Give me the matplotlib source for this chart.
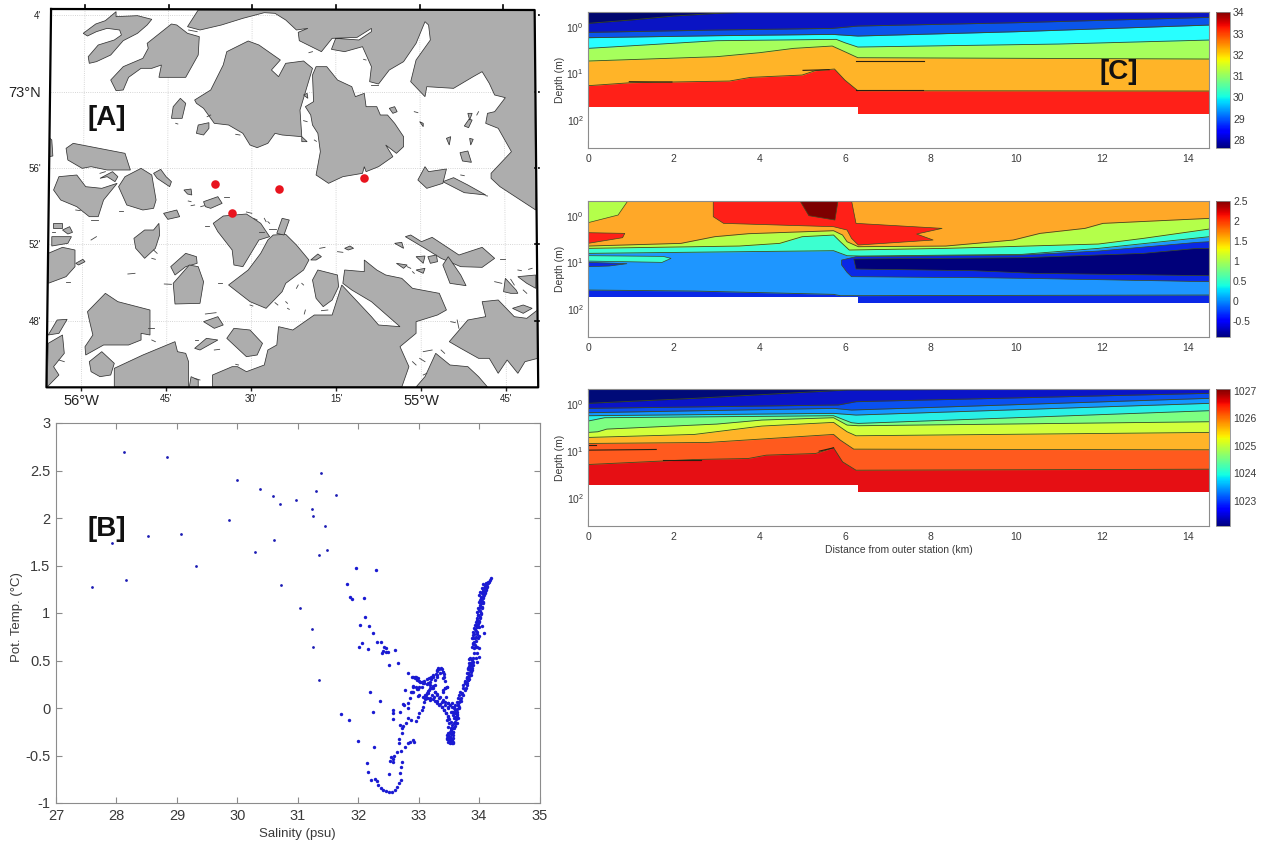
import numpy as np
import matplotlib
matplotlib.use("Agg")
import matplotlib.pyplot as plt

plt.rcParams['font.family'] = ['Liberation Sans', 'DejaVu Sans']
plt.rcParams['mathtext.default'] = 'regular'

W, H = 1263, 843
GREY = '#8c8c8c'
TXT = '#3a3a3a'

# ---- map coastlines (trace units, see to_lon / to_lat)
north_coast = [(555,30),(525,80),(560,90),(620,75),(680,55),(740,38),(770,40),(800,60),(830,90),(862,85),(835,97),
               (838,122),(900,155),(930,115),(1000,112),(1040,85),(1040,95),(1005,120),(940,115),(928,148),(965,155),
               (1015,140),(1040,200),(1035,245),(1060,252),(1090,210),(1130,185),(1165,130),(1190,65),(1200,75),(1205,120),
               (1165,180),(1150,245),(1190,290),(1195,260),(1270,265),(1325,230),(1350,215),(1370,250),(1385,285),
               (1415,293),(1385,335),(1365,340),(1360,370),(1395,385),(1432,455),(1375,520),(1375,535),(1400,560),
               (1500,630),(1497,30)]
south_coast = [(595,1161),(595,1125),(650,1100),(665,1100),(690,1115),(740,1095),(750,1050),(775,1035),(780,980),
               (820,990),(880,945),(930,945),(957,855),(1040,950),(1060,975),(1120,980),(1040,905),(985,870),(960,850),
               (965,810),(1020,815),(1020,780),(1055,810),(1080,825),(1125,835),(1155,865),(1230,880),(1250,930),
               (1225,945),(1165,965),(1165,1000),(1120,1040),(1145,1100),(1125,1161)]
southeast_land = [(1258,1025),(1310,960),(1360,950),(1350,905),(1395,900),(1440,950),(1475,955),(1505,930),(1506,1075),
                  (1470,1085),(1450,1120),(1420,1080),(1395,1120),(1370,1075),(1340,1075),(1290,1045)]
southeast_bottom = [(1165,1161),(1190,1130),(1220,1060),(1260,1095),(1310,1100),(1340,1130),(1365,1161)]
southwest_land = [(320,1161),(320,1105),(400,1065),(490,1025),(497,1055),(520,1060),(528,1085),(528,1161)]
nw_hook = [(233,100),(268,72),(295,62),(325,35),(325,50),(385,47),(425,58),(412,75),(385,100),(345,122),(310,165),
           (270,185),(250,190),(247,170),(275,135),(320,120),(340,105),(335,90),(300,85),(270,95),(245,108)]
nw_island = [(310,240),(345,200),(400,175),(415,145),(412,130),(480,72),(495,75),(525,100),(558,110),(555,165),
             (520,232),(445,232),(452,195),(425,205),(395,205),(360,232),(345,270),(325,272)]
north_island = [(545,300),(590,270),(625,195),(635,155),(695,123),(725,135),(785,180),(760,210),(780,230),(800,190),
                (850,183),(875,205),(840,330),(845,410),(790,405),(770,400),(750,430),(720,443),(700,435),(680,400),
                (640,375),(600,370),(570,325),(550,310)]
central_island = [(875,225),(885,200),(915,200),(945,240),(985,260),(995,290),(1020,280),(1025,320),(1055,320),
                  (1065,345),(1085,345),(1105,370),(1130,410),(1130,440),(1110,460),(1080,435),(1100,470),(1060,500),
                  (1025,515),(1020,500),(1015,520),(960,530),(920,550),(885,525),(897,455),(890,400),(875,375),
                  (870,345),(855,320),(878,305)]
south_isl_a = [(597,670),(625,648),(690,642),(730,670),(755,710),(725,720),(680,800),(655,795),(650,750),(610,695)]
south_isl_b = [(640,855),(695,810),(730,760),(750,720),(765,705),(800,703),(830,735),(865,780),(850,810),(800,850),
               (790,875),(745,925),(700,905)]
sw_island = [(245,935),(295,880),(330,905),(420,930),(420,1005),(395,1000),(395,1020),(360,1035),(290,1035),(240,1065),
             (238,1040),(260,1005),(250,960)]
east_long = [(1135,710),(1150,705),(1180,725),(1210,712),(1285,765),(1350,742),(1385,775),(1350,802),(1290,800),
             (1235,775),(1190,745)]
small_islands = [
    [(480,355),(485,320),(505,295),(520,310),(510,355)],
    [(550,400),(555,375),(585,368),(585,385),(570,405)],
    [(185,445),(205,430),(350,460),(365,510),(300,510),(255,500),(230,505),(190,480)],
    [(135,410),(145,420),(148,468),(135,470)],
    [(150,570),(165,530),(215,525),(240,560),(285,565),(328,550),(290,600),(275,650),(250,650),(215,620),(170,600)],
    [(280,535),(315,515),(330,530),(322,545),(300,530)],
    [(332,560),(350,530),(395,505),(425,525),(437,600),(430,625),(400,630),(355,615)],
    [(430,520),(450,508),(465,530),(480,545),(475,560),(440,535)],
    [(515,570),(535,567),(537,585),(525,582)],
    [(570,605),(610,590),(622,610),(590,625),(575,620)],
    [(458,640),(495,630),(503,650),(470,658)],
    [(775,700),(790,655),(810,660),(795,705)],
    [(375,715),(405,690),(430,690),(445,670),(447,705),(435,745),(405,775),(380,745)],
    [(135,760),(175,742),(210,750),(210,800),(185,830),(135,850)],
    [(148,670),(175,670),(175,685),(148,685)],
    [(175,690),(195,680),(203,697),(190,702)],
    [(145,710),(200,710),(190,730),(145,738)],
    [(212,790),(232,778),(238,785),(220,795)],
    [(478,800),(520,760),(550,770),(552,790),(520,800),(490,825)],
    [(485,850),(530,795),(555,800),(570,845),(560,910),(490,912)],
    [(875,840),(890,810),(945,825),(948,860),(930,900),(905,920),(885,895)],
    [(250,1085),(285,1055),(320,1090),(310,1125),(280,1130),(255,1115)],
    [(530,1161),(535,1130),(555,1140),(555,1161)],
    [(135,1005),(160,960),(188,958),(165,1000)],
    [(135,1030),(175,1005),(180,1060),(150,1100),(165,1125),(132,1161)],
    [(570,965),(610,950),(625,975),(600,985)],
    [(545,1045),(578,1015),(610,1020),(560,1050)],
    [(635,1015),(655,985),(700,990),(735,1030),(720,1065),(690,1070)],
    [(1240,545),(1270,533),(1310,555),(1360,585),(1300,578)],
    [(1170,540),(1190,500),(1200,515),(1250,507),(1240,550),(1195,565)],
    [(1288,458),(1310,453),(1320,487),(1295,483)],
    [(1250,415),(1262,410),(1258,435)],
    [(1300,378),(1313,358),(1322,360),(1312,383)],
    [(1240,795),(1255,770),(1290,825),(1305,857),(1260,850)],
    [(1165,770),(1190,768),(1185,790)],
    [(1198,770),(1222,765),(1225,785),(1205,790)],
    [(1165,810),(1190,805),(1185,820)],
    [(1110,790),(1140,795),(1130,805)],
    [(1105,730),(1125,727),(1130,745)],
    [(1410,875),(1415,835),(1445,870),(1450,880),(1430,880)],
    [(1450,830),(1500,825),(1500,865),(1475,850)],
    [(1435,925),(1465,915),(1490,925),(1465,940)],
    [(870,780),(890,762),(900,770),(885,780)],
    [(965,745),(980,738),(990,745),(975,750)],
    [(1090,325),(1105,320),(1112,335),(1100,340)],
    [(850,285),(860,280),(862,295)],
    [(845,410),(860,425),(845,425)],
    [(1175,365),(1185,370),(1185,380)],
    [(1310,340),(1322,340),(1315,360)],
    [(1315,415),(1325,418),(1318,435)],
]
reef_dashes = [(528,90,552,95),(865,158,875,155),(1018,178,1025,180),(580,350,590,345),(492,370,498,372),
               (660,403,672,405),(850,362,860,365),(880,420,886,424),(1160,335,1170,338),(1340,335,1335,345),
               (1040,255,1058,255),(212,630,225,632),(255,660,275,660),(333,632,345,632),(527,603,535,605),
               (535,617,545,615),(562,620,572,617),(628,592,640,592),(575,677,585,677),(690,636,705,640),
               (710,655,720,660),(740,655,745,665),(725,695,740,695),(752,688,772,688),(750,665,755,670),
               (255,720,270,710),(430,750,440,760),(425,775,435,778),(358,822,378,820),(460,852,480,853),
               (610,850,622,850),(575,942,605,938),(700,915,708,918),(770,908,778,915),(800,905,805,910),
               (805,925,810,928),(855,930,852,942),(900,932,918,930),(895,745,910,742),(945,755,960,757),
               (1155,815,1160,820),(1140,800,1150,805),(1400,778,1415,778),(1385,845,1405,850),(1450,810,1460,812),
               (1480,808,1490,805),(1430,838,1440,855),(1465,870,1475,880),(1262,965,1275,968),(1280,960,1285,985),
               (1360,587,1365,588),(1290,525,1300,527),(1185,1055,1210,1050),(1235,1050,1245,1060),
               (1155,1085,1165,1095),(1175,1075,1190,1085),(1185,1125,1195,1120),(545,1135,560,1140),
               (660,1093,668,1095),(600,1050,615,1048),(545,1020,555,1020),(415,985,430,985),(425,1020,435,1025),
               (165,1080,180,1085),(280,520,295,515),(185,845,195,845),(830,865,835,855),(845,850,850,855),
               (145,695,155,695)]
station_lon = [-55.6071, -55.4181, -55.1691, -55.5567]
station_lat = [72.9195, 72.9151, 72.9246, 72.8941]

lon_ticks = [-56, -55.75, -55.5, -55.25, -55, -54.75]
lon_labels = ['56°W', "45'", "30'", "15'", '55°W', "45'"]
lon_ticks_top_trace = [238, 472, 706, 940, 1175, 1409]
lon_ticks_bot_trace = [228, 466, 704, 942, 1180, 1418]
lat_trace = [45, 275, 504, 733, 963]
lat_labels = ["4'", '73°N', "56'", "52'", "48'"]

# ---- T-S scatter: the sparse upper points in real units
sal_upper = [28.13,28.83,30.00,30.37,30.59,30.70,30.97,31.39,31.31,31.64,31.24,31.25,31.45,29.87,27.93,28.52,29.07,
             29.31,30.29,30.60,31.48,31.35,27.60,28.15,30.73,31.03,31.24,31.26,31.35]
temp_upper = [2.70,2.64,2.40,2.31,2.23,2.15,2.19,2.47,2.28,2.24,2.10,2.02,1.92,1.98,1.74,1.81,1.83,1.50,1.64,1.77,
              1.66,1.61,1.27,1.35,1.30,1.05,0.83,0.64,0.29]
ts_sparse = [(107,25),(168,30),(81,71),(90,110),(97,117),(133,113),(135,170),(120,194),(148,199),(160,218),(171,246),
             (182,247),(127,250),(118,260),(145,267),(192,262),(197,265),(190,272),(187,280),(198,276),(204,276),
             (225,270),(206,315),(235,308),(264,338),(150,397),(179,422),(65,463),(87,479),(158,457),(114,542),
             (162,562),(141,608),(144,637),(208,641)]
ts_arc = [(154,661),(165,658),(170,662),(175,675),(182,685),(190,690),(198,694),(207,696),(215,695),(225,690),
          (232,680),(238,668),(242,660),(247,605),(243,620),(240,640),(210,602),(220,598),(213,590),(222,588),
          (218,605),(232,575),(243,572),(255,560),(263,550),(270,545),(278,540),(282,545),(237,550),(236,538),
          (245,520),(247,505),(240,495),(250,498),(258,488),(265,475),(272,480),(287,483),(293,470),(298,460),
          (305,450),(310,440),(218,450),(219,458),(220,477),(241,455),(248,433),(253,435),(263,443),(265,428),
          (270,415),(254,390),(275,395),(280,380),(290,388),(295,408),(297,380),(275,350),(285,350),(290,357)]
ts_limb = [(512,55),(510,60),(507,65),(503,70),(498,72),(495,78),(500,80),(492,85),(497,88),(488,92),(494,95),
           (485,100),(491,105),(483,110),(490,113),(481,120),(488,125),(484,130),(480,140),(486,145),(478,150),
           (483,158),(475,165),(481,172),(472,180),(478,187),(470,195),(476,200),(465,208),(472,215),(463,222),
           (468,230),(460,235),(473,235),(458,250),(465,255),(457,262),(468,262),(491,220),(486,198),(478,290),
           (472,307),(450,295),(455,300),(447,310),(453,315),(445,325),(450,330),(443,340),(447,345),(440,355),
           (444,360),(436,370),(440,375),(430,385),(434,390),(425,400),(428,405),(420,418),(423,423),(414,435),
           (416,440),(410,455),(412,462),(405,470),(408,478),(403,490),(405,497),(400,505),(398,515),(392,522),
           (490,72),(498,70),(505,65),(495,80),(485,85),(502,78),(480,95),(490,92),(498,90),(478,105),(488,102),
           (495,100),(482,115),(490,112),(478,125),(487,122),(480,135),(490,130),(475,145),(485,142),(472,155),
           (480,152),(475,165),(482,162),(470,175),(480,175),(468,185),(477,182),(465,195),(475,192),(463,205),
           (470,202),(460,215),(468,212),(458,225),(470,222),(478,228),(457,235),(465,235),(458,252),(463,245),
           (468,242),(462,265),(470,262),(476,265),(448,298),(455,298),(450,308),(460,305),(448,318),(457,315),
           (445,328),(455,325),(442,338),(452,335),(440,350),(448,348),(435,362),(445,360),
           (420,395),(418,405),(413,415),(410,425),(405,435),(402,445),(400,455),(425,402),(422,415),(418,425),
           (415,435),(412,448),(408,460),(405,475),(415,475),(410,488),(402,505),(398,515),(412,465),
           (430,375),(435,365),(440,355),(445,340),(450,325),(452,310),(458,295),(462,280),(438,385),(442,370),
           (448,358),(452,345),(457,330),(460,315),(467,295),(470,280)]
ts_loops = [(385,530),(382,538),(388,545),(395,548),(390,535),(397,540),(380,525),(385,520),(393,510),(383,500),
            (387,490),(380,480),(383,470),(378,460),(372,450),(367,442),(360,432),(352,422),(343,412),(335,405),
            (325,400),(318,405),(322,415),(330,420),(314,412),(311,425),(300,365),(310,370),(320,372),(330,365),
            (340,350),(350,345),(360,340),(355,325),(362,325),(368,335),(372,350),(375,362),(380,380),(375,385),
            (370,395),(378,410),(385,428),(395,430),(402,440),(330,375),(335,385),(345,395),(350,405),(358,415),
            (367,425),(375,435),(385,445),(395,455),(405,460),(325,392),(330,385),(325,370),(313,368),(305,365),
            (295,355),(287,352),(345,360),(352,350),(333,358),(338,345),(352,330),(418,445),(412,470),(405,450),
            (278,350),(285,355),(292,360),(298,362),(305,365),(312,362),(320,358),(327,355),(332,350),(340,348),
            (348,342),(352,332),(358,327),(365,328),(368,335),(372,342),(370,355),(380,382),(375,385),(368,390),
            (280,378),(288,382),(295,388),(280,395),(272,395),(298,405),(305,380),(310,410),(315,405),(320,398),
            (327,390),(332,383),(338,378),(345,375),(315,418),(322,415),(330,415),(338,418),(345,422),(352,428),
            (358,435),(365,442),(372,450),(378,460),(385,468),(388,478),(392,485),(395,495),(392,505),(390,515),
            (385,525),(390,532),(395,538),(385,535),(392,545),(398,548),(390,540),(338,385),(345,395),(352,402),
            (360,410),(368,420),(375,425),(383,430),(390,435),(395,442),(385,440),(392,455),(398,465),(402,475),
            (405,485),(408,490),(382,535),(388,540),(393,542),(398,535),(400,525),(395,520),(390,530),(385,545),
            (398,545),(390,550)]

distance_ticks = [0, 2, 4, 6, 8, 10, 12, 14]

sal_levels = [28, 29, 30, 31, 32, 33, 34]
sal_colors = ['#00066e', '#0a14c4', '#0b55ea', '#28ffff', '#a6ff5c', '#ffb428', '#ff2018']
sal_b1 = [(63,70),(158,60),(254,48),(349,40),(445,35),(1447,33)]
sal_b2 = [(63,97),(349,90),(607,85),(664,78),(1017,68),(1447,52)]
sal_b3 = [(63,113),(349,107),(607,103),(664,108),(1017,95),(1447,75)]
sal_b4 = [(63,145),(349,122),(616,118),(635,128),(664,141),(1112,132),(1447,120)]
sal_b5 = [(63,183),(349,170),(445,158),(521,145),(607,138),(635,155),(664,173),(1447,177)]
sal_b6 = [(63,257),(158,248),(378,243),(425,232),(540,225),(569,212),(612,207),(635,240),(664,272),(1447,273)]
sal_seabed = [(63,322),(664,322),(664,342),(1447,342)]
sal_slivers = [[(660,182),(812,182)], [(660,271),(810,271)], [(155,245),(250,246)], [(542,211),(600,209)]]

temp_levels = [-0.5, 0, 0.5, 1, 1.5, 2, 2.5]
temp_colors = ['#ffa828', '#b4ff4a', '#3cffd0', '#1e96ff', '#0a28e6']
temp_b1 = [(63,183),(270,175),(345,155),(420,146),(610,137),(630,150),(640,170),(665,185),(860,183),(1010,165),
           (1070,145),(1170,130),(1210,115),(1447,100)]
temp_b2 = [(63,190),(400,183),(490,175),(540,155),(610,150),(625,170),(645,195),(860,190),(1200,177),(1300,160),(1447,132)]
temp_b3 = [(63,205),(610,197),(640,212),(670,213),(1030,208),(1200,190),(1447,155)]
temp_b4 = [(63,315),(300,318),(610,328),(625,332),(1447,330)]
temp_seabed = [(63,335),(664,335),(664,353),(1447,353)]
temp_patches = [
    ('#b4ff4a', [(63,47),(152,47),(130,90),(63,113)]),
    ('#ff2018', [(342,47),(650,47),(660,115),(852,130),(795,147),(832,165),(665,180),(650,160),(640,135),(610,125),(365,115),(342,95)]),
    ('#7d0000', [(535,47),(620,47),(613,105),(555,92)]),
    ('#ff2018', [(63,143),(145,145),(140,158),(63,175)]),
    ('#3cffd0', [(63,212),(230,214),(248,220),(228,232),(63,228)]),
    ('#0a28e6', [(63,232),(150,236),(110,243),(63,245)]),
    ('#0a28e6', [(628,225),(660,215),(1030,210),(1200,198),(1420,172),(1447,170),(1447,290),(1040,280),(930,278),(650,275),(640,262),(628,240)]),
    ('#00007a', [(655,222),(1030,218),(1300,205),(1420,190),(1447,190),(1447,272),(1060,265),(920,257),(660,252)]),
]

dens_levels = [1023, 1024, 1025, 1026, 1027]
dens_colors = ['#000a78', '#0a14c8', '#0a50f0', '#1496ff', '#28f0e6', '#7dff82', '#d2ff3c', '#ffb428', '#ff5a1e', '#e60f14']
dens_b1 = [(63,85),(300,70),(640,45),(1447,41)]
dens_b2 = [(63,100),(620,90),(660,80),(1447,55)]
dens_b3 = [(63,113),(610,100),(650,105),(1447,70)]
dens_b4 = [(63,122),(610,115),(660,120),(1447,85)]
dens_b5 = [(63,138),(100,128),(610,122),(650,143),(665,145),(1447,107)]
dens_b6 = [(63,172),(85,170),(105,162),(350,147),(450,135),(610,128),(640,150),(665,152),(1447,140)]
dens_b7 = [(63,187),(300,178),(390,163),(450,153),(610,142),(640,170),(660,182),(1447,172)]
dens_b8 = [(63,205),(330,202),(610,178),(625,195),(655,222),(1447,224)]
dens_b9 = [(63,268),(300,253),(420,250),(460,240),(570,235),(610,218),(630,260),(660,285),(1447,282)]
dens_seabed = [(63,330),(664,330),(664,350),(1447,350)]
dens_slivers = [[(63,225),(215,223)], [(230,255),(315,255)], [(63,210),(80,210)], [(578,228),(610,218)]]


def to_lon(zx):
    return -56 + (np.asarray(zx, float) - 228) / 952.0


def to_lat(zy):
    return 73 + (275 - np.asarray(zy, float)) / 229.3 * 4 / 60.0


def px_axes(fig, left, top, right, bottom):
    return fig.add_axes([left / W, 1 - bottom / H, (right - left) / W, (bottom - top) / H])


def land(ax, pts):
    pts = np.array(pts, float)
    ax.fill(to_lon(pts[:, 0]), to_lat(pts[:, 1]), facecolor='#adadad', edgecolor='#333333', lw=0.55, zorder=2)


def km(zx):
    return (np.asarray(zx, float) - 63) / 95.4


def section(ax, colors, bounds, seabed, y_unit, patches=(), slivers=()):
    # y_unit: trace y of 1 m depth, 140 trace units per decade
    def depth(zy):
        return 10 ** ((np.asarray(zy, float) - y_unit) / 140.0)
    deep = depth(443 + y_unit - 80)
    top = depth(35 + y_unit - 80)
    ax.set_yscale('log')
    ax.set_xlim(0, 14.5)
    ax.set_ylim(deep, top)
    ax.set_axisbelow(True)
    ax.axhspan(top, deep, color=colors[0], lw=0, zorder=1)
    for col, b in zip(colors[1:], bounds):
        b = np.array(b, float)
        ax.fill_between(km(b[:, 0]), depth(b[:, 1]), deep, color=col, lw=0, zorder=1)
    for b in bounds:
        b = np.array(b, float)
        ax.plot(km(b[:, 0]), depth(b[:, 1]), color='#3c4a20', lw=0.6, zorder=1.5)
    for col, p in patches:
        p = np.array(p, float)
        ax.fill(km(p[:, 0]), depth(p[:, 1]), facecolor=col, edgecolor='#3c4a20', lw=0.5, zorder=2)
    for s in slivers:
        s = np.array(s, float)
        ax.plot(km(s[:, 0]), depth(s[:, 1]), color='#2a2010', lw=0.8, zorder=2)
    sb = np.array(seabed, float)
    ax.fill_between(km(sb[:, 0]), depth(sb[:, 1]), deep, color='white', lw=0, zorder=2.5)
    ax.set_xticks(distance_ticks)
    ax.set_yticks([1, 10, 100])
    ax.tick_params(which='both', direction='in', top=True, right=True, color=GREY, labelcolor=TXT, labelsize=7.5)
    ax.tick_params(axis='x', pad=4.5)
    ax.tick_params(axis='y', pad=3)
    ax.tick_params(which='major', length=5)
    ax.tick_params(which='minor', length=2.5)
    ax.set_ylabel('Depth (m)', fontsize=7.5, color=TXT)
    ax.yaxis.set_label_coords(-0.037, 0.5)
    for s in ax.spines.values():
        s.set_color(GREY)
        s.set_zorder(5)


def colorbar(fig, top, bottom, vmin, vmax, ticks):
    cax = px_axes(fig, 1216, top, 1229.5, bottom)
    sm = plt.cm.ScalarMappable(norm=plt.Normalize(vmin, vmax), cmap='jet')
    cb = fig.colorbar(sm, cax=cax, ticks=ticks)
    cb.ax.set_yticklabels([str(t) for t in ticks])
    cb.ax.tick_params(length=0, labelsize=7.5, labelcolor=TXT, pad=2.5)
    cb.outline.set_edgecolor(GREY)
    cb.outline.set_linewidth(0.6)


fig = plt.figure(figsize=(W / 100, H / 100), dpi=100)

# [A] map
ax = px_axes(fig, 130 / 2.8, 27 / 3, 1507 / 2.8, 1162 / 3)
ax.set_xlim(to_lon(130), to_lon(1507))
ax.set_ylim(to_lat(1162), to_lat(27))
for p in [north_coast, south_coast, southeast_land, southeast_bottom, southwest_land, nw_hook, nw_island, north_island,
          central_island, south_isl_a, south_isl_b, sw_island, east_long] + small_islands:
    land(ax, p)
for d in reef_dashes:
    ax.plot(to_lon([d[0], d[2]]), to_lat([d[1], d[3]]), color='#444444', lw=0.6, zorder=2)
for zt, zb in zip(lon_ticks_top_trace, lon_ticks_bot_trace):
    ax.plot(to_lon([zt, zb]), to_lat([27, 1162]), color='#c8c8c8', lw=0.6, ls=':', zorder=1)
    ax.plot(to_lon([zt, zt]), to_lat([27, 14]), color='k', lw=1.2, clip_on=False)
for zy in lat_trace:
    ax.plot(to_lon([135, 1500]), to_lat([zy, zy]), color='#c8c8c8', lw=0.6, ls=':', zorder=1)
    ax.plot(to_lon([1499, 1510]), to_lat([zy, zy]), color='k', lw=1.2, clip_on=False)
ax.scatter(station_lon, station_lat, s=38, color='#e8141e', zorder=4, lw=0)
frame_x = to_lon([143, 1497, 1507, 130, 143])
frame_y = to_lat([27, 30, 1162, 1162, 27])
ax.plot(frame_x, frame_y, color='k', lw=1.6, clip_on=False, zorder=5)
# mask the corners outside the slanted frame
ax.fill(to_lon([130, 143, 130]), to_lat([1162, 27, 27]), color='white', zorder=3)
ax.fill(to_lon([1497, 1507, 1507]), to_lat([30, 1162, 27]), color='white', zorder=3)
for s in ax.spines.values():
    s.set_visible(False)
ax.set_xticks(lon_ticks)
ax.set_xticklabels(lon_labels)
ax.set_yticks(to_lat(lat_trace))
ax.set_yticklabels(lat_labels)
ax.tick_params(axis='x', length=3, width=1.0, pad=2, colors='#222222')
ax.tick_params(axis='y', length=0, pad=4, colors='#222222')
for t in ax.get_xticklabels():
    t.set_fontsize(10.5 if 'W' in t.get_text() else 7)
for t in ax.get_yticklabels():
    t.set_fontsize(10.5 if 'N' in t.get_text() else 7)
fig.text(107 / W, 1 - 118 / H, '[A]', fontsize=20, fontweight='bold', color='#111111', ha='center', va='center')

# [B] T-S scatter
ax = px_axes(fig, 56, 423, 539.5, 803)
trace = np.array(ts_sparse + ts_arc + ts_limb + ts_loops, float)
sal_low = 32 + (trace[:, 0] - 115) / 181.0
temp_low = (444 - trace[:, 1]) / 285.0
ax.scatter(sal_upper, temp_upper, s=4, color='#1c1cb4', lw=0)
ax.scatter(sal_low, temp_low, s=6, color='#1a1ad2', lw=0)
ax.set_xlim(27, 35)
ax.set_ylim(-1, 3)
ax.set_yticks(np.arange(-1, 3.5, 0.5))
ax.set_yticklabels(['-1', '-0.5', '0', '0.5', '1', '1.5', '2', '2.5', '3'])
ax.tick_params(direction='in', top=True, right=True, length=4, color=GREY, labelcolor=TXT, labelsize=10.5, pad=4)
for s in ax.spines.values():
    s.set_color(GREY)
ax.set_xlabel('Salinity (psu)', fontsize=9.5, color=TXT, labelpad=4)
ax.set_ylabel('Pot. Temp. (°C)', fontsize=9.5, color=TXT)
ax.yaxis.set_label_coords(-0.068, 0.49)
fig.text(107 / W, 1 - 529 / H, '[B]', fontsize=20, fontweight='bold', color='#111111', ha='center', va='center')

# [C] sections
ax = px_axes(fig, 588, 11.7, 1209, 147.7)
section(ax, sal_colors, [sal_b1, sal_b2, sal_b3, sal_b4, sal_b5, sal_b6], sal_seabed, 80, slivers=sal_slivers)
colorbar(fig, 11.7, 147.7, 27.64, 34.03, sal_levels)
fig.text(1119 / W, 1 - 72 / H, '[C]', fontsize=20, fontweight='bold', color='#111111', ha='center', va='center')

ax = px_axes(fig, 588, 200.7, 1209, 336.7)
section(ax, temp_colors, [temp_b1, temp_b2, temp_b3, temp_b4], temp_seabed, 92, patches=temp_patches)
colorbar(fig, 200.7, 336.7, -0.89, 2.52, temp_levels)

ax = px_axes(fig, 588, 389.3, 1209, 525.7)
section(ax, dens_colors, [dens_b1, dens_b2, dens_b3, dens_b4, dens_b5, dens_b6, dens_b7, dens_b8, dens_b9], dens_seabed, 88,
        slivers=dens_slivers)
ax.set_xlabel('Distance from outer station (km)', fontsize=7.5, color=TXT, labelpad=2)
colorbar(fig, 389.3, 525.7, 1022.09, 1027.05, dens_levels)

fig.savefig('out.png', dpi=100)
